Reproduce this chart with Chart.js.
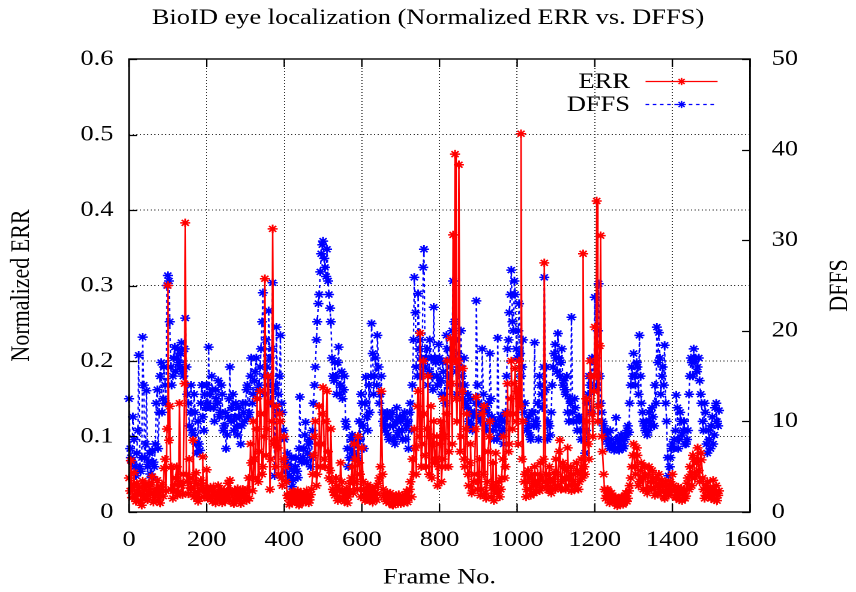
<!DOCTYPE html>
<html>
<head>
<meta charset="utf-8">
<title>BioID eye localization</title>
<script src="https://cdn.jsdelivr.net/npm/chart.js@4.4.0/dist/chart.umd.min.js"></script>
<style>
  html, body { margin:0; padding:0; background:#fff; }
  #wrap { width:856px; height:592px; overflow:hidden; }
  /* the source plot is stretched sideways, so the chart is drawn narrower and widened by css */
  #chart { display:block; width:856px; height:592px; }
</style>
</head>
<body>
<div id="wrap"><canvas id="chart" width="713" height="592" style="width:856px;height:592px"></canvas></div>
<script>
// ERR / DFFS: one value every FRAME_STEP frames,
// plus an in-between value 3 frames later (the *Mid arrays)
const FRAME_STEP = 5
const MID_OFFSET = 3

const errValues = [
  0.045,0.068,0.032,0.021,0.038,0.026,0.015,0.041,0.029,0.018,0.034,0.023,0.047,0.019,0.031,0.025,0.012,0.036,0.058,0.028,
  0.300,0.140,0.060,0.028,0.045,0.022,0.144,0.035,0.050,0.383,0.040,0.070,0.031,0.095,0.026,0.038,0.019,0.042,0.073,0.027,
  0.056,0.021,0.033,0.014,0.027,0.018,0.035,0.024,0.012,0.029,0.020,0.038,0.042,0.026,0.011,0.022,0.031,0.017,0.025,0.019,
  0.022,0.030,0.018,0.065,0.120,0.045,0.150,0.080,0.130,0.060,0.309,0.110,0.145,0.070,0.375,0.095,0.140,0.050,0.120,0.035,
  0.100,0.040,0.018,0.025,0.012,0.022,0.015,0.028,0.011,0.019,0.024,0.013,0.021,0.016,0.030,0.075,0.120,0.050,0.140,0.090,
  0.165,0.060,0.160,0.045,0.110,0.030,0.022,0.035,0.018,0.065,0.027,0.014,0.031,0.020,0.038,0.060,0.090,0.040,0.100,0.050,
  0.085,0.030,0.021,0.036,0.015,0.028,0.019,0.033,0.024,0.045,0.160,0.030,0.017,0.026,0.012,0.021,0.009,0.018,0.014,0.023,
  0.011,0.020,0.016,0.027,0.019,0.040,0.070,0.110,0.050,0.160,0.237,0.090,0.130,0.060,0.180,0.100,0.045,0.120,0.070,0.035,
  0.090,0.040,0.150,0.060,0.200,0.080,0.170,0.367,0.474,0.120,0.460,0.100,0.190,0.060,0.130,0.035,0.090,0.028,0.050,0.152,
  0.040,0.022,0.130,0.140,0.018,0.080,0.120,0.032,0.015,0.078,0.028,0.020,0.045,0.100,0.060,0.170,0.090,0.200,0.130,0.190,
  0.160,0.200,0.501,0.120,0.050,0.030,0.045,0.022,0.038,0.060,0.027,0.040,0.065,0.033,0.330,0.050,0.029,0.044,0.031,0.052,
  0.070,0.035,0.095,0.040,0.060,0.030,0.085,0.045,0.028,0.050,0.036,0.055,0.040,0.070,0.342,0.050,0.120,0.070,0.180,0.100,
  0.245,0.412,0.140,0.366,0.080,0.030,0.022,0.028,0.016,0.021,0.013,0.018,0.010,0.015,0.020,0.012,0.025,0.018,0.035,0.060,
  0.090,0.050,0.075,0.040,0.065,0.030,0.048,0.025,0.060,0.032,0.045,0.022,0.038,0.050,0.027,0.035,0.018,0.030,0.022,0.040,
  0.050,0.028,0.019,0.033,0.024,0.015,0.030,0.021,0.045,0.060,0.035,0.070,0.050,0.085,0.040,0.069,0.030,0.022,0.040,0.026,
  0.018,0.042,0.024,0.015,0.028
]

const errValuesMid = [
  0.028,0.019,0.052,0.014,0.024,0.033,0.009,0.022,0.037,0.016,0.027,0.039,0.013,0.026,0.042,0.017,0.030,0.021,0.070,0.110,
  0.095,0.030,0.018,0.036,0.060,0.027,0.040,0.023,0.170,0.050,0.024,0.032,0.045,0.020,0.052,0.014,0.028,0.035,0.020,0.031,
  0.018,0.028,0.020,0.033,0.012,0.025,0.016,0.030,0.021,0.014,0.026,0.017,0.024,0.013,0.029,0.016,0.022,0.011,0.030,0.024,
  0.015,0.045,0.090,0.028,0.070,0.110,0.040,0.160,0.050,0.100,0.075,0.180,0.030,0.120,0.090,0.060,0.085,0.130,0.045,0.070,
  0.060,0.022,0.010,0.017,0.027,0.014,0.020,0.009,0.025,0.015,0.018,0.028,0.012,0.023,0.050,0.100,0.035,0.090,0.060,0.130,
  0.070,0.120,0.080,0.055,0.040,0.026,0.045,0.015,0.030,0.040,0.018,0.024,0.012,0.028,0.045,0.025,0.070,0.030,0.065,0.020,
  0.040,0.015,0.027,0.020,0.032,0.013,0.025,0.016,0.038,0.060,0.050,0.022,0.014,0.019,0.025,0.010,0.016,0.022,0.011,0.017,
  0.015,0.012,0.022,0.013,0.030,0.020,0.050,0.085,0.140,0.100,0.060,0.200,0.075,0.110,0.050,0.140,0.090,0.065,0.100,0.060,
  0.120,0.070,0.100,0.130,0.060,0.230,0.090,0.200,0.150,0.200,0.080,0.160,0.070,0.110,0.050,0.065,0.025,0.040,0.110,0.030,
  0.070,0.030,0.050,0.025,0.040,0.100,0.020,0.065,0.035,0.025,0.040,0.030,0.070,0.045,0.130,0.080,0.150,0.110,0.170,0.120,
  0.090,0.140,0.070,0.040,0.020,0.055,0.030,0.050,0.025,0.035,0.050,0.028,0.045,0.070,0.040,0.035,0.060,0.025,0.040,0.030,
  0.050,0.080,0.030,0.065,0.045,0.055,0.035,0.060,0.040,0.030,0.065,0.030,0.050,0.045,0.060,0.150,0.090,0.200,0.130,0.160,
  0.180,0.120,0.220,0.100,0.050,0.018,0.030,0.012,0.025,0.017,0.020,0.008,0.014,0.019,0.010,0.022,0.014,0.028,0.045,0.075,
  0.060,0.085,0.035,0.055,0.045,0.060,0.030,0.050,0.040,0.055,0.030,0.045,0.025,0.035,0.042,0.020,0.040,0.026,0.034,0.028,
  0.035,0.020,0.027,0.016,0.031,0.025,0.018,0.038,0.030,0.050,0.075,0.045,0.065,0.055,0.078,0.045,0.018,0.035,0.020,0.031,
  0.030,0.016,0.035,0.022
]

const dffsValues = [
  12.5,6,10.5,5,6.5,17.3,4.5,19.3,6,13.4,5.5,4.2,6.8,5,12,7,15,11,16,12,
  26.1,21,14,17,15.5,18,16,18.7,15,21.4,13,9.5,14,8.5,11,6.5,7.5,12,10.5,13,
  14,18.2,11.5,13.5,10,12.5,14.5,11,13,9.5,7,10.5,16,11.5,9,12,8.5,10.5,9.5,11,
  12,14,11,17,13,15.5,12.5,14,18,24.2,13,16,22.2,12,25.3,4,20.4,13,19.5,11,
  8,5.5,3.5,5,2.8,4.5,6,3.8,12.7,5.5,7,9.9,6.5,8,6,12,16,21,24,28.5,
  29.9,27,29,24,21,15,16.5,13,18.2,14,12.5,15,9.4,5,7,8.5,6,7.5,5.7,8,
  12,7,14.9,9,11,20.8,13,17,19.5,12,15,10,9,11,8,10.5,9.5,7.5,11.5,9,
  10,8,11,9.5,7,12,14,25.9,16,24.1,19,15,29,17,14,19,15,22.6,16.5,14,
  17,13,15.5,12,18,14,17,25.5,19,13,16,20,12.5,14,11.5,10,12.5,9,11,23.3,
  12,10,18,11.5,9,12,17.5,10.5,8,9.5,19.2,8.5,10,7.5,11,18,22,26.7,20,24,
  17,23,15,19,12,9,10.5,8,11,18.7,9.5,8,14,11.5,25.9,16,10,8.5,14,17.5,
  17,19.7,15,18,14.5,13,11,12.5,21.5,10,11.5,9,10.5,8,9,6.5,12,15,11,16.7,
  23.7,14,25.2,12,10,9,8,7.5,9,7.2,6.8,10.4,7,7.5,8,7.3,8.5,9.5,12,16,
  17.5,14,16,19.5,12,10,9,8.5,11,9.5,10.5,14,20.4,19.8,13,16,18.4,10,4,6,
  7.5,8,12.9,7,11,8.5,10,7.5,9,15,16.5,18,17,16,14.5,12,9,11,6.5,8,
  9.5,7.5,11.5,10,11.2
]

const dffsValuesMid = [
  7,5.5,8,4,9,5,6,14,7.5,5,6.5,3.8,5.5,7.5,13.5,11,16.5,12.5,14,25,
  25.5,16,15,18.2,17,16.5,17.5,15.5,18,16,12,11,9,13,7.5,10,6.8,14,9,11.5,
  12,13,15,11.5,13.5,12,10.5,14,9,11,8.5,12.5,10,13,10.5,9.5,11.5,7.5,12,10,
  13.5,10.5,15,12,14.5,17,13.5,16,21,15,19,14,17,18,13.5,14,11,15,12,9,
  4.5,6.5,4,6,3.5,5,4.5,7,5.8,6,8.5,5.5,7.5,5,9,14,19,23,26.5,29.5,
  28,26,25.5,22.5,17,14.5,15,16.5,13,15.5,13.5,10,7,6,8,6.5,7.8,6.2,10,13,
  9.5,12,10.5,14,15,17.5,15,14,16,13,11,9.5,10.5,8.5,9.5,11,8,10,8.5,10.5,
  9,10.5,8,10,11,9,19,22,15,18,17,27,16,18,15.5,17,13.5,17,15,18.5,
  14.5,16.5,13,19.5,15,16,20,21,15.5,17.5,14,15,17,12,13,11,9.5,10.5,12,14,
  10.5,11,13,9.5,11,10,12.5,9,10,8,9.5,10.5,9,10,15,19,24,21,25.5,18,
  20,17.5,16,11,10,9.5,8.5,11,9.5,10,12,15,13,16,13.5,8,9.5,11,16,18.5,
  15.5,17,16.5,14,13.5,15,10,12,11,12.5,10,10.5,9,10,8,9,13,14,17,13.5,
  17,20,15,11,9.5,8.5,8.8,7,8,7.5,7,8,6.8,8.5,7,8,9,8.8,14,15,
  15,16.5,13,15,11,9.5,10,9,10,11.5,9.5,12,16.5,17,15,14,12,6,5,7,
  7,9,11.5,8,10,9,7.5,8,13,17,15,16.8,15.5,17,13,10,12,7.5,9,7,
  10.5,8.5,12,9.5
]

const xTicks = [0,200,400,600,800,1000,1200,1400,1600]
const errTicks = [0,0.1,0.2,0.3,0.4,0.5,0.6]
const dffsTicks = [0,10,20,30,40,50]

// interleave main samples and in-between samples into {x, y} points
function toPoints(vals, mids) {
  const pts = []
  vals.forEach((v, i) => {
    pts.push({x: i * FRAME_STEP, y: v})
    if (i < mids.length) pts.push({x: i * FRAME_STEP + MID_OFFSET, y: mids[i]})
  })
  return pts
}

const SX = 856 / 713            // sideways stretch of the canvas
const TICK_LEN = 8
const SERIF = '"Liberation Serif", "Times New Roman", Times, serif'

Chart.defaults.font.family = SERIF
Chart.defaults.color = '#000'

// gnuplot-like box, inward tics, right axis label and legend
const framePlugin = {
  id: 'frame',
  afterDatasetsDraw(chart) {
    const {ctx, chartArea: a, scales} = chart
    ctx.save()
    ctx.strokeStyle = '#000'
    ctx.lineWidth = 1.2
    ctx.setLineDash([])
    ctx.beginPath()
    scales.x.ticks.forEach(t => {
      const px = scales.x.getPixelForValue(t.value)
      ctx.moveTo(px, a.bottom); ctx.lineTo(px, a.bottom - TICK_LEN)
      ctx.moveTo(px, a.top); ctx.lineTo(px, a.top + TICK_LEN)
    })
    scales.y.ticks.forEach(t => {
      const py = Math.round(scales.y.getPixelForValue(t.value)) + 0.5
      ctx.moveTo(a.left, py); ctx.lineTo(a.left + TICK_LEN / SX, py)
    })
    scales.y2.ticks.forEach(t => {
      const py = Math.round(scales.y2.getPixelForValue(t.value)) + 0.5
      ctx.moveTo(a.right, py); ctx.lineTo(a.right - TICK_LEN / SX, py)
    })
    ctx.stroke()
    ctx.lineWidth = 1.4
    ctx.strokeRect(a.left, a.top, a.right - a.left, a.bottom - a.top)

    // right axis title, bottom to top like gnuplot
    ctx.fillStyle = '#000'
    ctx.font = '22px ' + SERIF
    ctx.textAlign = 'center'
    ctx.textBaseline = 'middle'
    ctx.translate(a.right + 75, (a.top + a.bottom) / 2)
    ctx.rotate(-Math.PI / 2)
    ctx.fillText('DFFS', 0, 0)
    ctx.restore()

    // legend inside the top right corner
    ctx.save()
    ctx.font = '22px ' + SERIF
    ctx.textAlign = 'right'
    ctx.textBaseline = 'middle'
    chart.data.datasets.forEach((ds, i) => {
      const y = a.top + 22 + i * 23
      ctx.fillStyle = '#000'
      ctx.fillText(ds.label, a.right - 100, y + 1)
      ctx.strokeStyle = ds.borderColor
      ctx.lineWidth = ds.borderWidth
      ctx.setLineDash(ds.borderDash || [])
      ctx.beginPath()
      ctx.moveTo(a.right - 87, y + 0.5)
      ctx.lineTo(a.right - 27, y + 0.5)
      ctx.stroke()
      ctx.setLineDash([])
      Chart.helpers.drawPoint(ctx, {pointStyle: 'star', radius: 3.6, rotation: 0, borderWidth: ds.pointBorderWidth}, a.right - 57, y + 0.5)
    })
    ctx.restore()
  }
}

new Chart(el('chart'), {
  type: 'line',
  data: {
    datasets: [
      {
        label: 'ERR',
        data: toPoints(errValues, errValuesMid),
        yAxisID: 'y',
        borderColor: '#ff0000',
        backgroundColor: '#ff0000',
        borderWidth: 1.3,
        pointStyle: 'star',
        pointRadius: 4.2,
        pointBorderWidth: 1.5,
        tension: 0,
        clip: 6
      },
      {
        label: 'DFFS',
        data: toPoints(dffsValues, dffsValuesMid),
        yAxisID: 'y2',
        borderColor: '#0000ff',
        backgroundColor: '#0000ff',
        borderWidth: 1.2,
        borderDash: [3, 3],
        pointStyle: 'star',
        pointRadius: 4.2,
        pointBorderWidth: 1.5,
        tension: 0,
        clip: 6
      }
    ]
  },
  options: {
    responsive: false,
    animation: false,
    devicePixelRatio: 2,
    layout: { padding: 0 },
    plugins: {
      legend: { display: false },
      tooltip: { enabled: false },
      title: {
        display: true,
        text: 'BioID eye localization (Normalized ERR vs. DFFS)',
        color: '#000',
        font: { size: 22, weight: 'normal' },
        padding: { top: 5, bottom: 27.6 }
      }
    },
    scales: {
      x: {
        type: 'linear',
        min: 0, max: 1600,
        afterBuildTicks: s => { s.ticks = xTicks.map(v => ({value: v})) },
        afterFit: s => { s.height = 80 },
        ticks: { color: '#000', font: { size: 22 }, padding: 15, maxRotation: 0, callback: v => String(v) },
        grid: { color: '#333', lineWidth: 1, drawTicks: false },
        border: { display: false, dash: [1, 2] },
        title: { display: true, text: 'Frame No.', color: '#000', font: { size: 22 }, padding: { top: 0, bottom: 1 } }
      },
      y: {
        position: 'left',
        min: 0, max: 0.6,
        afterBuildTicks: s => { s.ticks = errTicks.map(v => ({value: v})) },
        afterFit: s => { s.width = 129 / SX },
        ticks: { color: '#000', font: { size: 22 }, padding: 13, callback: v => String(v) },
        grid: { color: '#333', lineWidth: 1, drawTicks: false },
        border: { display: false, dash: [1, 2] },
        title: { display: true, text: 'Normalized ERR', color: '#000', font: { size: 22 }, padding: { top: 5, bottom: 0 } }
      },
      y2: {
        position: 'right',
        min: 0, max: 50,
        afterBuildTicks: s => { s.ticks = dffsTicks.map(v => ({value: v})) },
        afterFit: s => { s.width = 713 - 750 / SX },
        ticks: { color: '#000', font: { size: 22 }, padding: 18, callback: v => String(v) },
        grid: { display: false, drawTicks: false },
        border: { display: false }
      }
    }
  },
  plugins: [framePlugin]
})

function el(id){ return document.getElementById(id) }
</script>
</body>
</html>
